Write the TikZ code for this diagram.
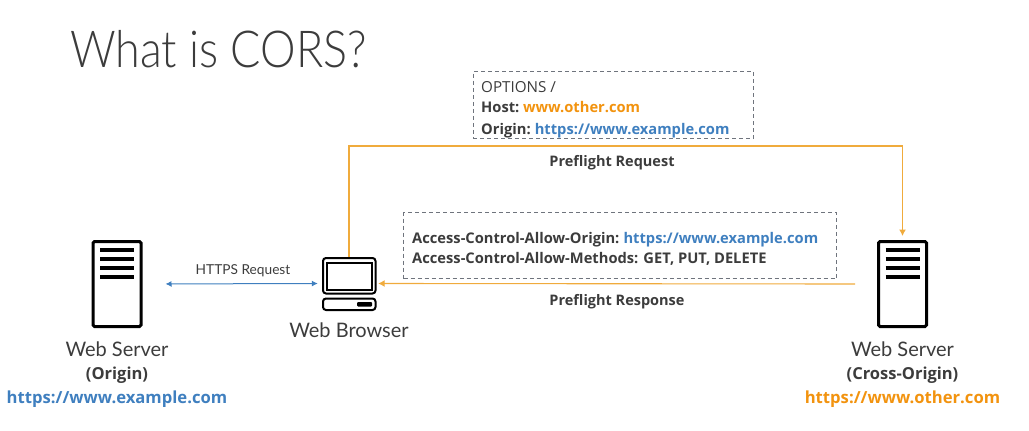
\documentclass[tikz,border=0pt]{standalone}
\usepackage{fontspec}
\setmainfont{Open Sans}
\newfontfamily\gill{Lato}
\newfontfamily\gilllight[FakeStretch=0.88]{Lato Light}
\usetikzlibrary{arrows.meta}
\definecolor{cblue}{HTML}{3F7FBF}
\definecolor{corange}{HTML}{F2930F}
\definecolor{cline}{HTML}{F0AB3C}
\definecolor{ctext}{HTML}{3C3C3C}
\definecolor{cdash}{HTML}{6F747D}
\tikzset{
  dashbox/.style={draw=cdash,line width=1.1pt,dash pattern=on 4pt off 3pt,anchor=north west,inner sep=0pt},
  srv/.style={draw=black,line width=3pt,rounded corners=1.5pt,minimum width=48pt,minimum height=85pt,inner sep=0pt},
  srvbar/.style={line width=3.4pt,black},
  lbl/.style={text=ctext,font=\fontsize{14.5}{16}\selectfont\bfseries,inner sep=0pt,anchor=base},
  captxt/.style={text=ctext,font=\gill\fontsize{20}{22}\selectfont,inner sep=0pt,anchor=base},
  capbold/.style={text=ctext,font=\fontsize{16.5}{18}\selectfont\bfseries,inner sep=0pt,anchor=base},
  urltxt/.style={font=\fontsize{16.65}{20}\selectfont\bfseries,inner sep=0pt,anchor=base},
  body/.style={text=ctext,font=\fontsize{14.7}{22}\selectfont\bfseries,inner sep=0pt,anchor=base west},
  flowb/.style={cblue,line width=1pt,{Latex[length=6pt,width=6pt]}-{Latex[length=6pt,width=6pt]}},
  flowo/.style={cline,line width=1.1pt,-{Latex[length=6.5pt,width=7pt]}}
}
\begin{document}
\begin{tikzpicture}[x=1pt,y=-1pt]
\useasboundingbox (0,0) rectangle (1029,431);
% title
\node[text=ctext,font=\gilllight\fontsize{51}{60}\selectfont,inner sep=0pt,anchor=base west] (title) at (70,67) {What is CORS?};
% dashed boxes
\node[dashbox,minimum width=280pt,minimum height=67.5pt] (req) at (472.7,70.7) {};
\node[dashbox,minimum width=433pt,minimum height=66pt] (resp) at (403,212) {};
% servers
\node[srv] (ls) at (117,284) {};
\node[srv] (rs) at (902.5,284) {};
\foreach \c in {117,902.5}{
  \foreach \y in {250,259,268,277}{
    \draw[srvbar] (\c-17,\y) -- (\c+17,\y);
  }
}
% browser
\node[minimum width=54pt,minimum height=53pt,inner sep=0pt] (br) at (349,283.5) {};
\draw[black,line width=2pt,rounded corners=3pt] (323,258) rectangle (375.5,293.5);
\draw[black,line width=2pt] (327,262.5) rectangle (372,289.5);
\draw[black,line width=2pt,rounded corners=3pt] (323,298.5) rectangle (375.5,310);
\fill[black,rounded corners=1pt] (357,302) rectangle (372,306.5);
% connectors
\coordinate (c1) at (349,146);
\draw[flowo] (br.north) -- (c1) -| ([yshift=4pt]rs.north);
\coordinate (c2) at (855,284);
\draw[flowo] (c2) -- ([xshift=2pt]br.east);
\draw[flowb,shorten <=23pt,shorten >=4pt] (ls.east) -- (br.west);
% texts in boxes
\node[body,font=\fontsize{15.2}{22}\selectfont,text=ctext] (t1) at (481,92) {OPTIONS /};
\node[body] (t2) at (481,112) {Host:\hspace{-1.5pt} \textcolor{corange}{www.other.com}};
\node[body] (t3) at (481,134) {Origin:\hspace{-1pt} \textcolor{cblue}{https://www.example.com}};
\node[lbl] (pr) at (612,166) {Preflight Request};
\node[body] (t4) at (412,243) {Access-Control-Allow-Origin:\hspace{-1pt} \textcolor{cblue}{https://www.example.com}};
\node[body] (t5) at (412,263) {Access-Control-Allow-Methods: GET, PUT, DELETE};
\node[lbl] (ps) at (617,305) {Preflight Response};
\node[text=ctext,font=\gill\fontsize{13.7}{16}\selectfont,inner sep=0pt,anchor=base] (hr) at (243,274) {HTTPS Request};
% captions
\node[captxt] (wb) at (349,337) {Web Browser};
\node[captxt] (ws1) at (117,356) {Web Server};
\node[capbold] (o1) at (117,379) {(Origin)};
\node[urltxt,text=cblue] (u1) at (117,403) {https://www.example.com};
\node[captxt] (ws2) at (902.5,356) {Web Server};
\node[capbold] (o2) at (902.5,379) {(Cross-Origin)};
\node[urltxt,text=corange] (u2) at (902.5,403) {https://www.other.com};
\end{tikzpicture}
\end{document}
